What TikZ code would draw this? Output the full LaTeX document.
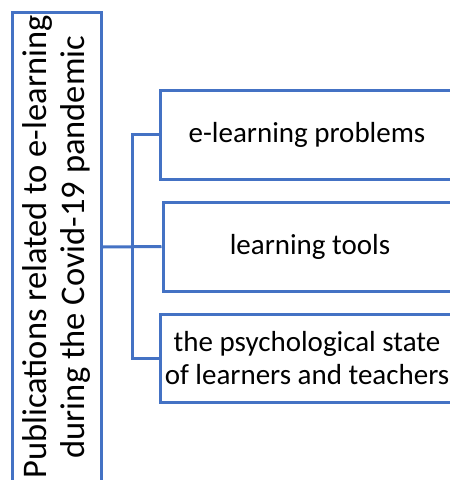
\documentclass[tikz,border=0pt]{standalone}
\usepackage{fontspec}
\setmainfont{Carlito}

\begin{document}
\begin{tikzpicture}[x=1pt,y=-1pt]
\definecolor{pub_blue}{RGB}{68,114,196}  %#4472C4

\tikzset{
  topicbox/.style={draw=pub_blue,line width=3pt,minimum width=294pt,
    minimum height=89pt,align=center,inner sep=0pt,
    font=\fontsize{29}{33}\selectfont},
  link/.style={draw=pub_blue,line width=3pt}
}

\clip (0,0) rectangle (450,480);

% root box, text turned upright
\node (pub) [draw=pub_blue,line width=3pt,rotate=90,minimum width=470pt,
  minimum height=89pt,align=center,inner sep=0pt,
  font=\fontsize{34.5}{38}\selectfont] at (56.5,247)
  {Publications related to e-learning\\during the Covid-19 pandemic};

\node (probl) [topicbox] at (307,134.5) {e-learning problems};
\node (tools) [topicbox] at (310,246.5) {learning tools};
\node (psych) [topicbox,minimum height=88pt] at (307,358)
  {the psychological state\\of learners and teachers};

\coordinate (trunk) at (132,247);

\draw [link] (pub.south) -- (tools.west);
\draw [link] (probl.west) -- (probl.west -| trunk) -- (psych.west -| trunk) -- (psych.west);

\end{tikzpicture}
\end{document}
